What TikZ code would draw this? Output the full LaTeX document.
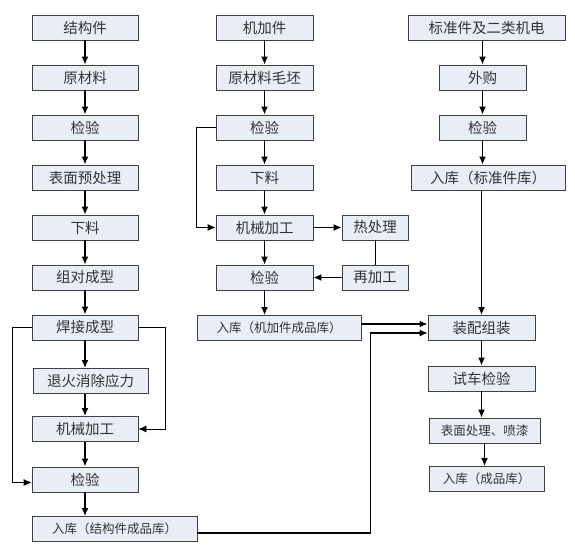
\documentclass[tikz,border=0pt]{standalone}
\usepackage{fontspec}
\newfontfamily\cjk{Noto Sans CJK SC}
\usetikzlibrary{positioning,arrows.meta}
\definecolor{boxfill}{HTML}{E9EEF6}
\definecolor{boxline}{HTML}{404040}
\definecolor{txt}{HTML}{333333}
\tikzstyle{box}=[draw=boxline, line width=0.8pt, fill=boxfill, minimum height=25pt, inner sep=0pt, text=txt, font=\cjk\fontsize{14.5}{16}\selectfont]
\tikzstyle{small}=[font=\cjk\fontsize{12.5}{14}\selectfont]
\tikzstyle{arr}=[-{Latex[length=8pt,width=7pt]}, line width=1.5pt]
\tikzstyle{back}=[-{Latex[length=8pt,width=7pt]}, line width=0.8pt]
\tikzstyle{line}=[-, line width=0.8pt]

\begin{document}
\begin{tikzpicture}[x=1pt,y=-1pt]
            \useasboundingbox (0,0) rectangle (575,556);
            % structural parts
            \node[box, minimum width=106pt] (jgj) at (85,27.5) {结构件};
            \node[box, minimum width=106pt] (ycl1) at (85,77.5) {原材料};
            \node[box, minimum width=106pt] (jy1) at (85,127.5) {检验};
            \node[box, minimum width=106pt] (bmycl) at (85,177.5) {表面预处理};
            \node[box, minimum width=106pt] (xl1) at (85,227.5) {下料};
            \node[box, minimum width=106pt] (zdcx) at (85,277.5) {组对成型};
            \node[box, minimum width=106pt] (hjcx) at (85,327.5) {焊接成型};
            \node[box, minimum width=115pt] (thxc) at (90.5,381) {退火消除应力};
            \node[box, minimum width=106pt] (jxjg1) at (85,429) {机械加工};
            \node[box, minimum width=106pt] (jy2) at (85,479.5) {检验};
            \node[box, small, minimum width=165pt] (rk1) at (114.5,529) {入库（结构件成品库）};

            % machined parts
            \node[box, minimum width=97pt] (jjj) at (264.5,27.5) {机加件};
            \node[box, minimum width=97pt] (yclmp) at (264.5,77.5) {原材料毛坯};
            \node[box, minimum width=97pt] (jy3) at (264.5,127.5) {检验};
            \node[box, minimum width=97pt] (xl2) at (264.5,177.5) {下料};
            \node[box, minimum width=97pt] (jxjg2) at (264.5,227.5) {机械加工};
            \node[box, minimum width=97pt] (jy4) at (264.5,277.5) {检验};
            \node[box, small, minimum width=164pt] (rk2) at (279,328) {入库（机加件成品库）};
            \node[box, minimum width=66pt] (rcl) at (375,227.5) {热处理};
            \node[box, minimum width=66pt] (zjg) at (375,277.5) {再加工};

            % standard parts and assembly
            \node[box, minimum width=157pt] (bzj) at (486.5,27.5) {标准件及二类机电};
            \node[box, minimum width=87pt] (wg) at (482.5,77.5) {外购};
            \node[box, minimum width=87pt] (jy5) at (482.5,127.5) {检验};
            \node[box, minimum width=154pt] (rk3) at (488,177.5) {入库（标准件库）};
            \node[box, minimum width=107pt] (zpzz) at (481.5,328) {装配组装};
            \node[box, minimum width=107pt] (scjy) at (481.5,378.5) {试车检验};
            \node[box, small, minimum width=111pt] (bmcl) at (484.5,430.5) {表面处理、喷漆};
            \node[box, small, minimum width=115pt] (rk4) at (486.5,479) {入库（成品库）};

            \foreach \a/\b in {jgj/ycl1, ycl1/jy1, jy1/bmycl, bmycl/xl1, xl1/zdcx, zdcx/hjcx, hjcx/thxc, jxjg1/jy2, jy2/rk1,
                jjj/yclmp, yclmp/jy3, jy3/xl2, xl2/jxjg2, jxjg2/jy4, jy4/rk2,
                wg/jy5, jy5/rk3, zpzz/scjy, scjy/bmcl, bmcl/rk4}
                \draw[arr] (\a.south) -- (\a.south |- \b.north);
            \draw[arr] (thxc.south -| jxjg1) -- (jxjg1);
            \draw[arr] (bzj.south -| wg) -- (wg);
            \draw[arr] (rk3.south -| zpzz) -- (zpzz);

            % loops
            \draw[back] (hjcx.west) -- ++(-19,0) |- ([yshift=-3pt]jy2.west);
            \draw[back] (hjcx.east) -- ++(27,0) |- (jxjg1.east);
            \draw[back] (jy3.west) -- ++(-19,0) |- (jxjg2.west);
            \draw[arr] (jxjg2) -- (rcl);
            \draw[line] (rcl) -- (zjg);
            \draw[arr] (zjg) -- (jy4);

            % to assembly
            \draw[arr] ([yshift=4pt]rk2.east) -- ([yshift=4pt]rk2.east -| zpzz.west);
            \draw[arr, line width=1.1pt] ([yshift=-4pt]rk1.east) -- ++(173,0) |- ([yshift=-5pt]zpzz.west);
        \end{tikzpicture}
\end{document}
